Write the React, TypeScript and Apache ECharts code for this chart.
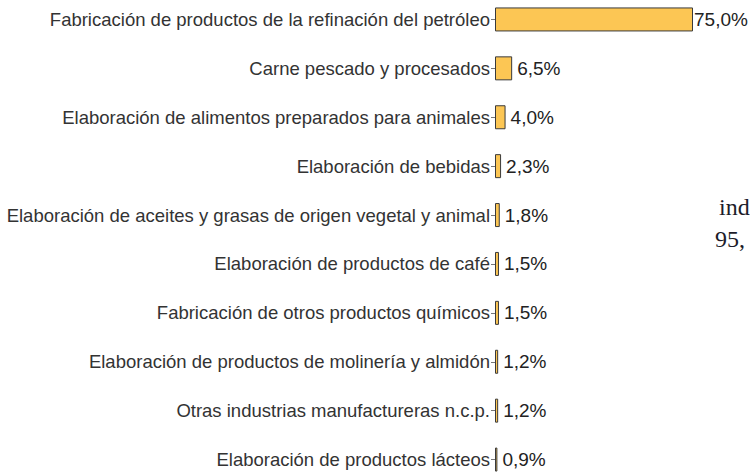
import React, { useEffect, useRef } from "react";
import * as echarts from "echarts";

const categories = [
  "Fabricación de productos de la refinación del petróleo",
  "Carne pescado y procesados",
  "Elaboración de alimentos preparados para animales",
  "Elaboración de bebidas",
  "Elaboración de aceites y grasas de origen vegetal y animal",
  "Elaboración de productos de café",
  "Fabricación de otros productos químicos",
  "Elaboración de productos de molinería y almidón",
  "Otras industrias manufactureras n.c.p.",
  "Elaboración de productos lácteos",
];
const values = [75.0, 6.5, 4.0, 2.3, 1.8, 1.5, 1.5, 1.2, 1.2, 0.9];
const sideTexts = ["ind", "95,"];

export default function App() {
  const ref = useRef<HTMLDivElement>(null);
  useEffect(() => {
    document.body.style.margin = "0";
    const chart = echarts.init(ref.current!, null, { renderer: "svg" });
    chart.setOption({
      animation: false,
      grid: {
        left: 495,
        top: -5,
        width: 264,
        height: 489,
        containLabel: false,
        outerBoundsMode: "none",
      },
      xAxis: {
        type: "value",
        min: 0,
        max: 100,
        show: false,
      },
      yAxis: {
        type: "category",
        data: categories,
        inverse: true,
        axisLine: { show: false },
        axisTick: { show: true, length: 4, lineStyle: { color: "#777", width: 1 }, alignWithLabel: true },
        axisLabel: {
          margin: 5,
          fontFamily: "Liberation Sans, Arial, sans-serif",
          fontSize: 18.5,
          color: "#333",
        },
        splitLine: { show: false },
      },
      series: [
        {
          type: "bar",
          data: values.map((v, i) =>
            i === 0 ? { value: v, label: { distance: 1 } } : v
          ),
          barWidth: 24,
          itemStyle: { color: "#FCC654", borderColor: "#3a3a3a", borderWidth: 1 },
          label: {
            show: true,
            position: "right",
            distance: 5,
            fontFamily: "Liberation Sans, Arial, sans-serif",
            fontSize: 19,
            color: "#222",
            formatter: (p: any) => Number(p.value).toFixed(1).replace(".", ",") + "%",
          },
        },
      ],
      graphic: [
        {
          type: "text",
          x: 719,
          y: 207,
          style: {
            text: sideTexts[0],
            font: '24px "Liberation Serif", serif',
            fill: "#1c1c2a",
            verticalAlign: "middle",
          },
        },
        {
          type: "text",
          x: 715,
          y: 239,
          style: {
            text: sideTexts[1],
            font: '24px "Liberation Serif", serif',
            fill: "#1c1c2a",
            verticalAlign: "middle",
          },
        },
      ],
    });
    return () => chart.dispose();
  }, []);
  return <div ref={ref} style={{ width: 750, height: 474 }} />;
}
